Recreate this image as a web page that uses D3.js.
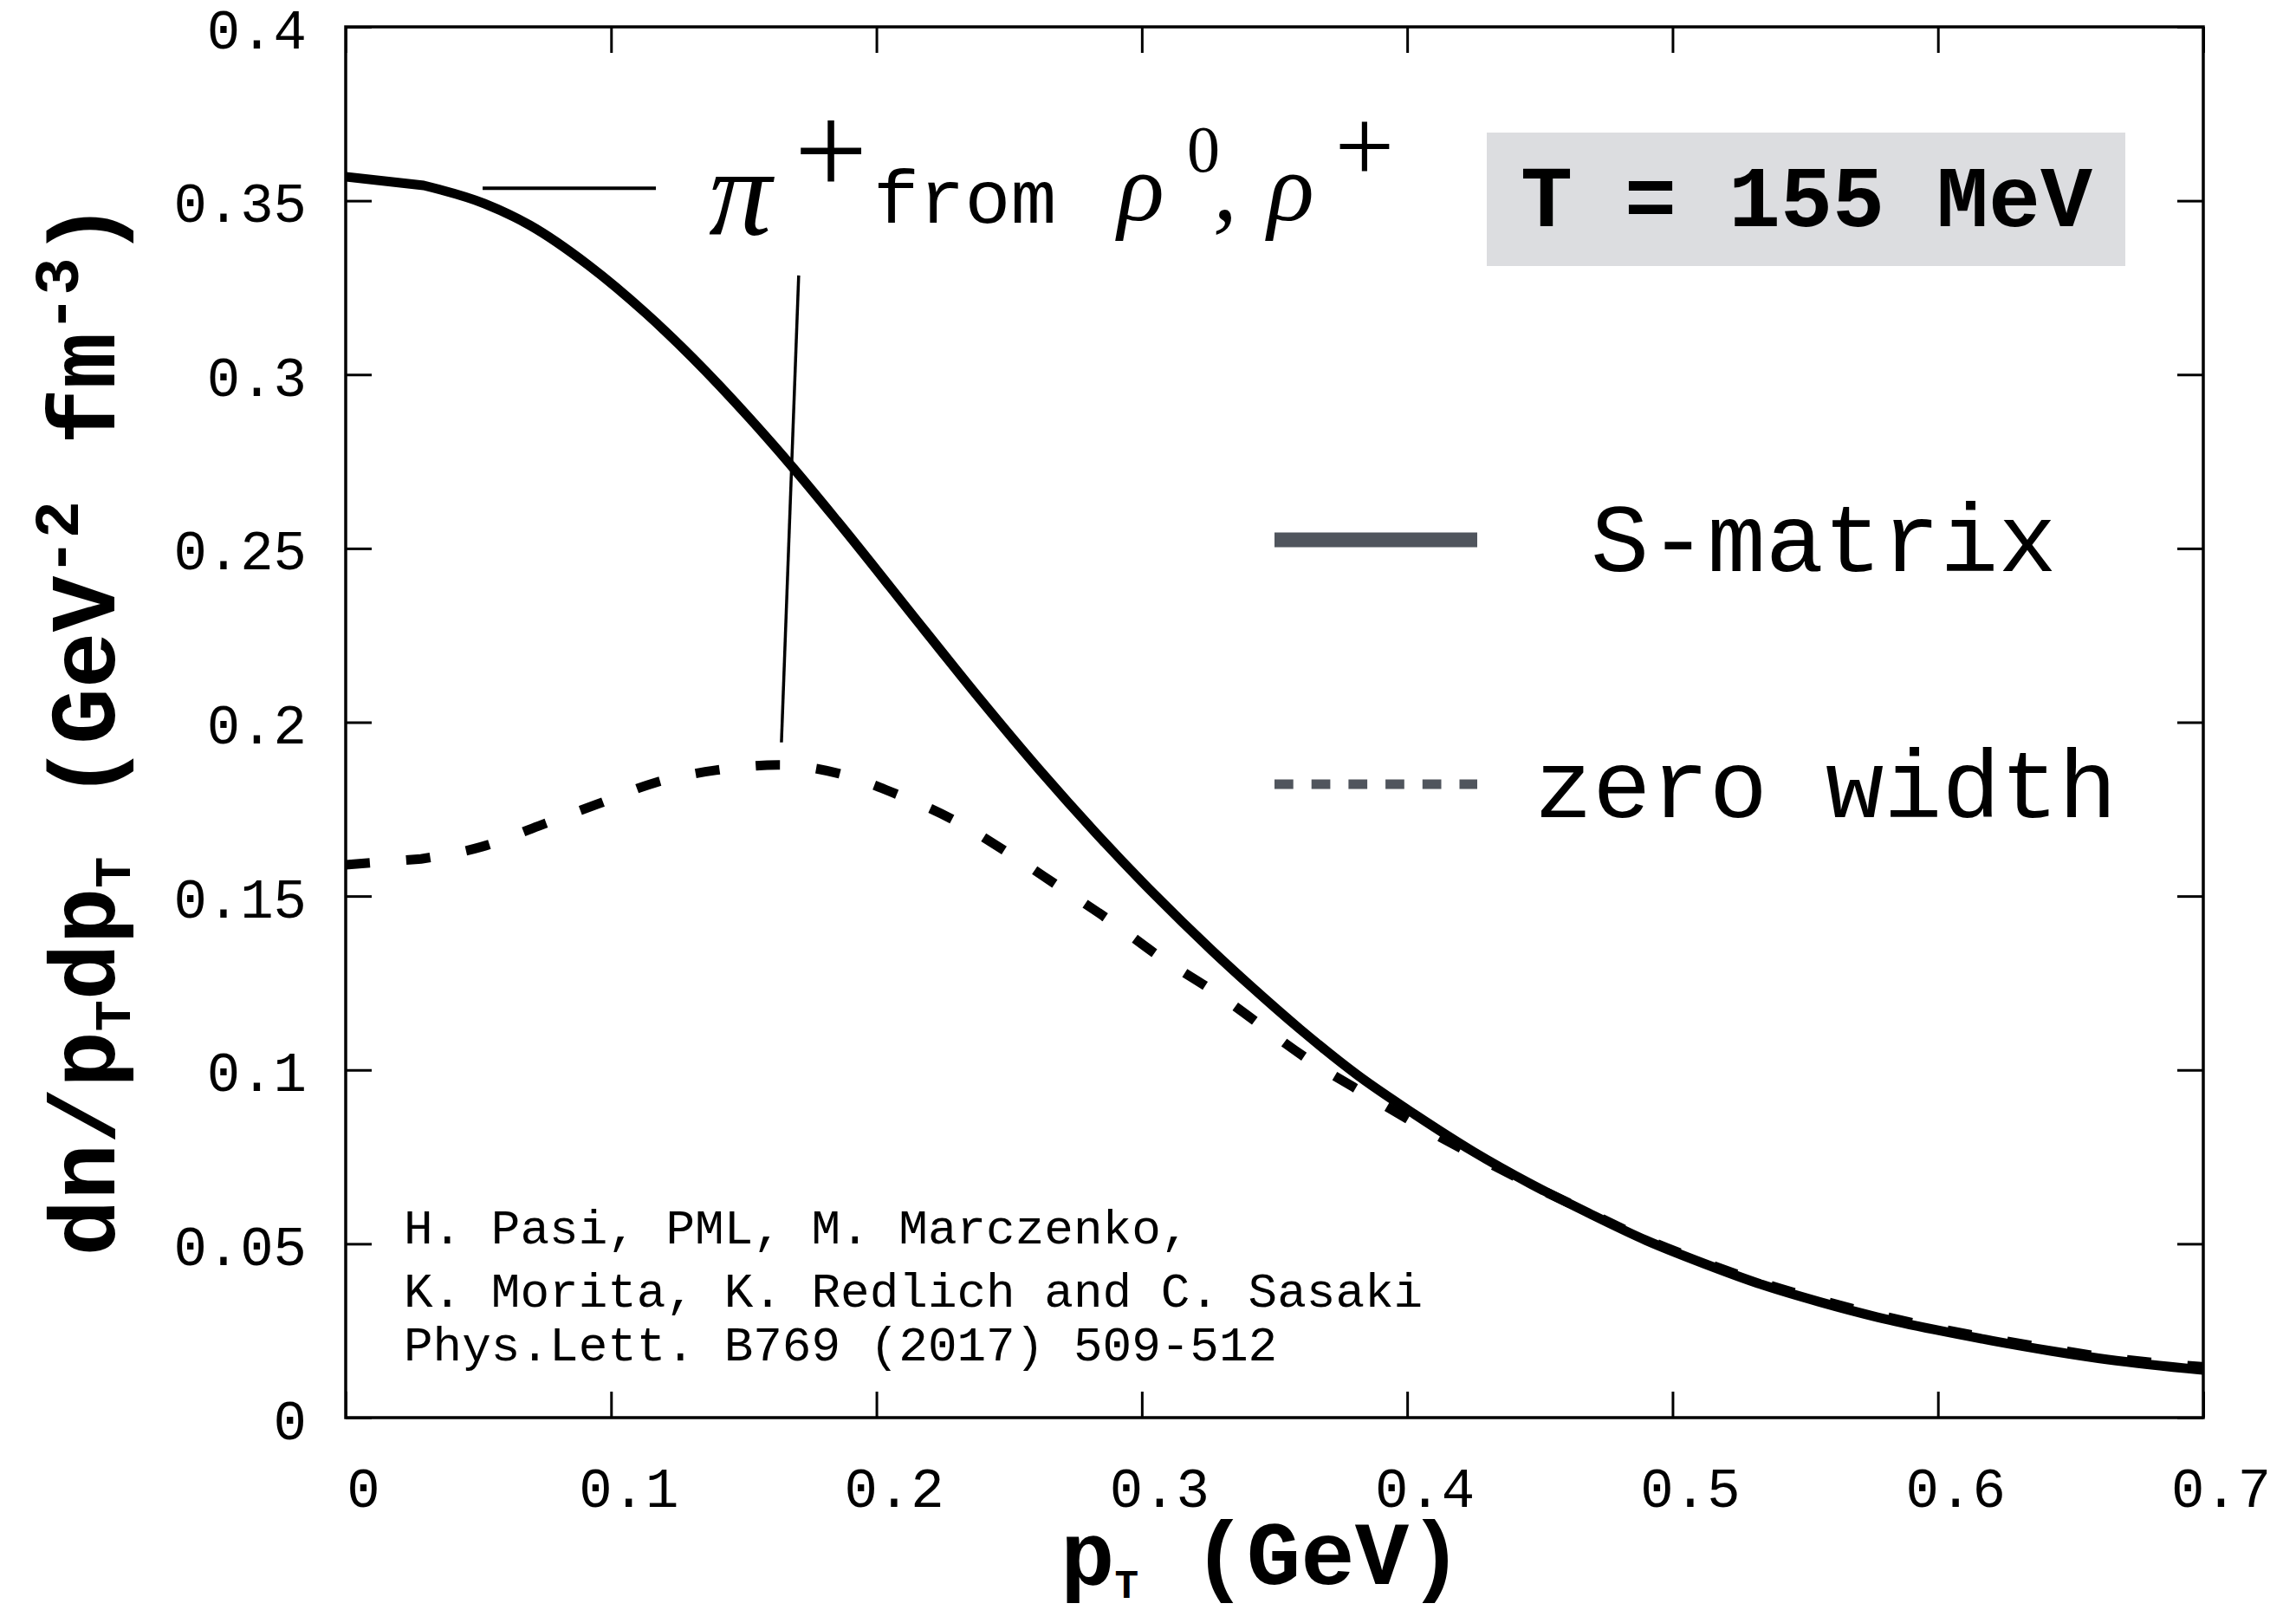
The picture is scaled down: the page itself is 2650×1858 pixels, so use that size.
<!DOCTYPE html>
<html>
<head>
<meta charset="utf-8">
<script src="https://cdn.jsdelivr.net/npm/d3@7"></script>
<style>
  html, body { margin: 0; padding: 0; background: #ffffff; }
  svg { display: block; }
</style>
</head>
<body>
<svg id="chart" width="2650" height="1858"></svg>
<script>
// ---------------- data ----------------
const xTickValues = [0, 0.1, 0.2, 0.3, 0.4, 0.5, 0.6, 0.7];
const xTickLabels = ["0", "0.1", "0.2", "0.3", "0.4", "0.5", "0.6", "0.7"];
const yTickValues = [0, 0.05, 0.1, 0.15, 0.2, 0.25, 0.3, 0.35, 0.4];
const yTickLabels = ["0", "0.05", "0.1", "0.15", "0.2", "0.25", "0.3", "0.35", "0.4"];

// S-matrix (solid)
const ptSmatrix = [0, 0.0294, 0.0522, 0.0695, 0.0914, 0.1133, 0.1306, 0.1525, 0.1688, 0.1851,
  0.2178, 0.2393, 0.2612, 0.2831, 0.3046, 0.3265, 0.3412, 0.3595, 0.3813, 0.4029,
  0.4247, 0.4466, 0.4682, 0.4900, 0.5119, 0.5335, 0.5553, 0.5772, 0.5988, 0.6206,
  0.6425, 0.6641, 0.7];
const valSmatrix = [0.3569, 0.3544, 0.3492, 0.3429, 0.3315, 0.3175, 0.3049, 0.2872, 0.2730, 0.2580,
  0.2268, 0.2064, 0.1865, 0.1678, 0.1506, 0.1343, 0.1240, 0.1118, 0.0985, 0.0872,
  0.0766, 0.0672, 0.0589, 0.0510, 0.0443, 0.0383, 0.0333, 0.0289, 0.0253, 0.0221,
  0.0192, 0.0167, 0.0137];

// zero width (dashed)
const ptZero = [0, 0.0284, 0.0513, 0.0728, 0.0947, 0.1169, 0.1394, 0.1629, 0.1861, 0.2080,
  0.2295, 0.2491, 0.2687, 0.2883, 0.3072, 0.3265, 0.3650, 0.3846, 0.4052, 0.4247,
  0.4466, 0.4682, 0.4900, 0.5119, 0.5335, 0.5553, 0.5772, 0.5988, 0.6206, 0.6425,
  0.6641, 0.7];
const valZero = [0.1590, 0.1607, 0.1642, 0.1702, 0.1764, 0.1827, 0.1862, 0.1877, 0.1852, 0.1792,
  0.1717, 0.1627, 0.1528, 0.1428, 0.1323, 0.1229, 0.1019, 0.0929, 0.0837, 0.0757,
  0.0670, 0.0591, 0.0513, 0.0447, 0.0388, 0.0339, 0.0296, 0.0259, 0.0227, 0.0198,
  0.0173, 0.0146];

const legendLabels = ["S-matrix", "zero width"];
const creditLines = ["H. Pasi, PML, M. Marczenko,",
  "K. Morita, K. Redlich and C. Sasaki",
  "Phys.Lett. B769 (2017) 509-512"];
const boxLabel = "T = 155 MeV";

// ---------------- layout ----------------
const L = 399, R = 2543, T = 31, B = 1636;
const MONO = "'Courier New', 'Liberation Mono', monospace";
const SERIF = "'Liberation Serif', 'DejaVu Serif', serif";

const svg = d3.select("#chart");
const x = d3.scaleLinear().domain([0, 0.7]).range([L, R]);
const y = d3.scaleLinear().domain([0, 0.4]).range([B, T]);

svg.append("defs").append("clipPath").attr("id", "plotclip")
  .append("rect").attr("x", L).attr("y", T).attr("width", R - L).attr("height", B - T);

// axes with inward ticks on all four sides
const tickLen = 30;
const gB = svg.append("g").attr("transform", `translate(0,${B})`)
  .call(d3.axisBottom(x).tickValues(xTickValues).tickSize(-tickLen).tickPadding(0)
    .tickFormat((d, i) => xTickLabels[i]));
const gT = svg.append("g").attr("transform", `translate(0,${T})`)
  .call(d3.axisTop(x).tickValues(xTickValues).tickSize(-tickLen).tickFormat(""));
const gL = svg.append("g").attr("transform", `translate(${L},0)`)
  .call(d3.axisLeft(y).tickValues(yTickValues).tickSize(-tickLen).tickPadding(0)
    .tickFormat((d, i) => yTickLabels[i]));
const gR = svg.append("g").attr("transform", `translate(${R},0)`)
  .call(d3.axisRight(y).tickValues(yTickValues).tickSize(-tickLen).tickFormat(""));

[gB, gT, gL, gR].forEach(g => {
  g.select(".domain").remove();
  g.selectAll(".tick line").attr("stroke", "#000").attr("stroke-width", 3);
});
gB.selectAll(".tick text")
  .attr("font-family", MONO).attr("font-size", 64).attr("fill", "#000")
  .attr("x", 20).attr("y", 103).attr("dy", null);
gL.selectAll(".tick text")
  .attr("font-family", MONO).attr("font-size", 64).attr("fill", "#000")
  .attr("x", -45).attr("dy", null).attr("y", 24);

// frame
svg.append("rect").attr("x", L).attr("y", T).attr("width", R - L).attr("height", B - T)
  .attr("fill", "none").attr("stroke", "#000").attr("stroke-width", 3.5);

// curves: straight first step, smooth afterwards
function curvePath(xs, ys) {
  const rest = d3.line()
    .x((d, i) => x(xs[i + 1])).y((d, i) => y(ys[i + 1]))
    .curve(d3.curveMonotoneX)(xs.slice(1));
  return `M${x(xs[0])},${y(ys[0])}L` + rest.slice(1);
}

const plot = svg.append("g").attr("clip-path", "url(#plotclip)");
plot.append("path").attr("d", curvePath(ptZero, valZero))
  .attr("fill", "none").attr("stroke", "#000").attr("stroke-width", 11)
  .attr("stroke-dasharray", "28,42");
plot.append("path").attr("d", curvePath(ptSmatrix, valSmatrix))
  .attr("fill", "none").attr("stroke", "#000").attr("stroke-width", 11)
  .attr("stroke-linejoin", "round");

// annotation "— π+ from ρ0, ρ+"
svg.append("line")
  .attr("x1", x(0.0516)).attr("x2", x(0.1169)).attr("y1", y(0.3536)).attr("y2", y(0.3536))
  .attr("stroke", "#000").attr("stroke-width", 4);
svg.append("line")
  .attr("x1", x(0.1707)).attr("y1", y(0.3285)).attr("x2", x(0.1642)).attr("y2", y(0.1942))
  .attr("stroke", "#000").attr("stroke-width", 3.5);

const ann = svg.append("g").attr("fill", "#000");
ann.append("text").attr("x", 818).attr("y", 271).attr("font-family", SERIF)
  .attr("font-style", "italic").attr("font-size", 145).text("π");
ann.append("text").attr("x", 959).attr("y", 224).attr("text-anchor", "middle")
  .attr("font-family", SERIF).attr("font-size", 150).text("+");
ann.append("text").attr("x", 1008).attr("y", 257).attr("font-family", MONO)
  .attr("font-size", 88).text("from");
ann.append("text").attr("x", 1290).attr("y", 254).attr("font-family", SERIF)
  .attr("font-style", "italic").attr("font-size", 112).text("ρ");
ann.append("text").attr("x", 1370).attr("y", 198).attr("font-family", SERIF)
  .attr("font-size", 76).text("0");
ann.append("text").attr("x", 1400).attr("y", 254).attr("font-family", SERIF)
  .attr("font-style", "italic").attr("font-size", 112).text(",");
ann.append("text").attr("x", 1463).attr("y", 254).attr("font-family", SERIF)
  .attr("font-style", "italic").attr("font-size", 112).text("ρ");
ann.append("text").attr("x", 1575).attr("y", 210).attr("text-anchor", "middle")
  .attr("font-family", SERIF).attr("font-size", 122).text("+");

// T = 155 MeV box
svg.append("rect").attr("x", 1716).attr("y", 153).attr("width", 737).attr("height", 154)
  .attr("fill", "#dcdde0");
svg.append("text").attr("x", 1755).attr("y", 261).attr("font-family", MONO)
  .attr("font-weight", "bold").attr("font-size", 100).attr("fill", "#000").text(boxLabel);

// legend
svg.append("line").attr("x1", 1471).attr("x2", 1705).attr("y1", 623).attr("y2", 623)
  .attr("stroke", "#50555d").attr("stroke-width", 17);
svg.append("line").attr("x1", 1471).attr("x2", 1705).attr("y1", 905).attr("y2", 905)
  .attr("stroke", "#50555d").attr("stroke-width", 11).attr("stroke-dasharray", "21.7,21");
svg.append("text").attr("x", 1836).attr("y", 659).attr("font-family", MONO)
  .attr("font-size", 112).attr("fill", "#000").text(legendLabels[0]);
svg.append("text").attr("x", 1771).attr("y", 943).attr("font-family", MONO)
  .attr("font-size", 112).attr("fill", "#000").text(legendLabels[1]);

// credits
const baselines = [1435, 1508, 1570];
svg.append("g").selectAll("text").data(creditLines).join("text")
  .attr("x", 466).attr("y", (d, i) => baselines[i])
  .attr("font-family", MONO).attr("font-size", 56).attr("fill", "#000")
  .text(d => d);

// x axis title: p_T (GeV)
const xt = svg.append("text").attr("x", 1224).attr("y", 1828)
  .attr("font-family", MONO).attr("font-weight", "bold").attr("font-size", 104).attr("fill", "#000");
xt.append("tspan").text("p");
xt.append("tspan").attr("font-size", 46).attr("dy", 16).text("T");
xt.append("tspan").attr("dy", -16).text(" (GeV)");

// y axis title
const yt = svg.append("text")
  .attr("transform", "translate(132,841) rotate(-90)")
  .attr("text-anchor", "middle")
  .attr("font-family", MONO).attr("font-weight", "bold").attr("font-size", 108).attr("fill", "#000");
yt.append("tspan").text("dn/p");
yt.append("tspan").attr("font-size", 60).attr("dy", 18).text("T");
yt.append("tspan").attr("dy", -18).text("dp");
yt.append("tspan").attr("font-size", 60).attr("dy", 18).text("T");
yt.append("tspan").attr("dy", -18).text(" (GeV");
yt.append("tspan").attr("font-size", 72).attr("dy", -42).text("-2");
yt.append("tspan").attr("dy", 42).text(" fm");
yt.append("tspan").attr("font-size", 72).attr("dy", -42).text("-3");
yt.append("tspan").attr("dy", 42).text(")");
</script>
</body>
</html>
